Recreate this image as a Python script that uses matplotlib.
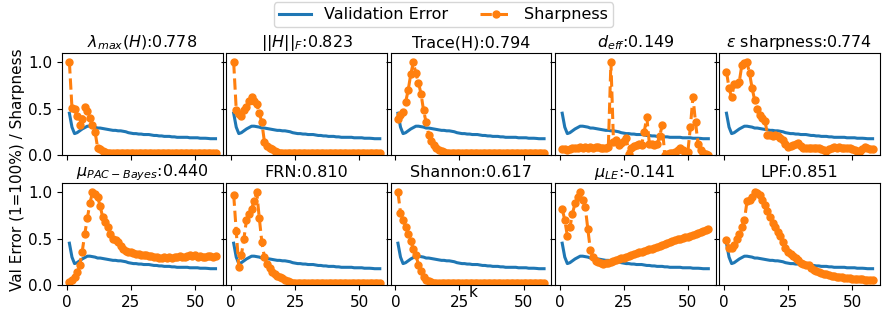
import numpy as np
import matplotlib.pyplot as plt

plt.rcParams['font.size'] = 11

# ---------------- DATA ---------------- #
k = np.arange(1, 59)

val_error = [0.45, 0.30, 0.23, 0.24, 0.26, 0.28, 0.295, 0.31, 0.31, 0.305,
             0.30, 0.29, 0.29, 0.285, 0.28, 0.275, 0.27, 0.265, 0.265, 0.26,
             0.26, 0.255, 0.25, 0.24, 0.235, 0.23, 0.23, 0.225, 0.225, 0.22,
             0.22, 0.22, 0.215, 0.21, 0.21, 0.205, 0.205, 0.20, 0.20, 0.20,
             0.195, 0.195, 0.19, 0.19, 0.19, 0.19, 0.19, 0.185, 0.185, 0.185,
             0.185, 0.18, 0.18, 0.18, 0.178, 0.175, 0.175, 0.175]

lam_max = [1.00, 0.51, 0.50, 0.42, 0.32, 0.39, 0.52, 0.47, 0.40, 0.32,
           0.25, 0.08, 0.06, 0.04, 0.03, 0.02, 0.02, 0.02, 0.02, 0.02,
           0.02, 0.02, 0.02, 0.02, 0.02, 0.02, 0.02, 0.02, 0.02, 0.02,
           0.02, 0.02, 0.02, 0.02, 0.02, 0.02, 0.02, 0.02, 0.02, 0.02,
           0.02, 0.02, 0.02, 0.02, 0.02, 0.02, 0.02, 0.02, 0.02, 0.02,
           0.02, 0.02, 0.02, 0.02, 0.02, 0.02, 0.02, 0.02]

frob = [1.00, 0.49, 0.44, 0.42, 0.48, 0.52, 0.58, 0.63, 0.58, 0.55,
        0.45, 0.35, 0.14, 0.10, 0.08, 0.06, 0.04, 0.03, 0.02, 0.02,
        0.02, 0.02, 0.02, 0.02, 0.02, 0.02, 0.02, 0.02, 0.02, 0.02,
        0.02, 0.02, 0.02, 0.02, 0.02, 0.02, 0.02, 0.02, 0.02, 0.02,
        0.02, 0.02, 0.02, 0.02, 0.02, 0.02, 0.02, 0.02, 0.02, 0.02,
        0.02, 0.02, 0.02, 0.02, 0.02, 0.02, 0.02, 0.02]

trace = [0.39, 0.43, 0.46, 0.57, 0.70, 0.87, 1.00, 0.88, 0.78, 0.66,
         0.48, 0.35, 0.22, 0.15, 0.11, 0.07, 0.05, 0.04, 0.03, 0.02,
         0.02, 0.02, 0.02, 0.02, 0.02, 0.02, 0.02, 0.02, 0.02, 0.02,
         0.02, 0.02, 0.02, 0.02, 0.02, 0.02, 0.02, 0.02, 0.02, 0.02,
         0.02, 0.02, 0.02, 0.02, 0.02, 0.02, 0.02, 0.02, 0.02, 0.02,
         0.02, 0.02, 0.02, 0.02, 0.02, 0.02, 0.02, 0.02]

d_eff = [0.06, 0.06, 0.05, 0.06, 0.07, 0.08, 0.08, 0.09, 0.08, 0.09,
         0.08, 0.09, 0.08, 0.09, 0.09, 0.08, 0.08, 0.08, 0.09, 1.00,
         0.14, 0.16, 0.11, 0.13, 0.15, 0.18, 0.01, 0.07, 0.10, 0.11,
         0.12, 0.11, 0.25, 0.41, 0.12, 0.12, 0.11, 0.12, 0.20, 0.32,
         0.00, 0.01, 0.02, 0.02, 0.03, 0.05, 0.07, 0.05, 0.02, 0.03,
         0.30, 0.63, 0.35, 0.12, 0.05, 0.02, 0.01, 0.00]

eps_sharp = [0.90, 0.72, 0.62, 0.76, 0.77, 0.79, 0.97, 0.99, 1.00, 0.88,
             0.72, 0.59, 0.50, 0.43, 0.40, 0.37, 0.22, 0.21, 0.20, 0.21,
             0.20, 0.18, 0.16, 0.12, 0.09, 0.10, 0.11, 0.12, 0.125, 0.10,
             0.08, 0.08, 0.08, 0.075, 0.08, 0.07, 0.07, 0.06, 0.05, 0.045,
             0.06, 0.08, 0.09, 0.08, 0.09, 0.08, 0.07, 0.07, 0.07, 0.06,
             0.05, 0.045, 0.045, 0.06, 0.09, 0.08, 0.065, 0.065]

pac_bayes = [0.03, 0.05, 0.08, 0.14, 0.21, 0.36, 0.55, 0.72, 0.88, 1.00,
             0.98, 0.95, 0.85, 0.73, 0.68, 0.62, 0.55, 0.50, 0.48, 0.46,
             0.42, 0.39, 0.37, 0.36, 0.35, 0.34, 0.33, 0.33, 0.32, 0.32,
             0.32, 0.31, 0.31, 0.30, 0.30, 0.29, 0.29, 0.30, 0.29, 0.30,
             0.29, 0.30, 0.30, 0.31, 0.30, 0.30, 0.31, 0.32, 0.31, 0.32,
             0.30, 0.31, 0.30, 0.30, 0.31, 0.31, 0.30, 0.31]

frn = [0.975, 0.58, 0.19, 0.32, 0.50, 0.70, 0.76, 0.82, 0.91, 1.00,
       0.72, 0.46, 0.30, 0.23, 0.18, 0.14, 0.12, 0.10, 0.08, 0.07,
       0.05, 0.04, 0.03, 0.025, 0.02, 0.02, 0.02, 0.02, 0.02, 0.02,
       0.02, 0.02, 0.02, 0.02, 0.02, 0.02, 0.02, 0.02, 0.02, 0.02,
       0.02, 0.02, 0.02, 0.02, 0.02, 0.02, 0.02, 0.02, 0.02, 0.02,
       0.02, 0.02, 0.02, 0.02, 0.02, 0.02, 0.02, 0.02]

shannon = [1.00, 0.78, 0.70, 0.63, 0.55, 0.47, 0.39, 0.32, 0.22, 0.15,
           0.08, 0.05, 0.04, 0.03, 0.02, 0.02, 0.02, 0.02, 0.02, 0.02,
           0.02, 0.02, 0.02, 0.02, 0.02, 0.02, 0.02, 0.02, 0.02, 0.02,
           0.02, 0.02, 0.02, 0.02, 0.02, 0.02, 0.02, 0.02, 0.02, 0.02,
           0.02, 0.02, 0.02, 0.02, 0.02, 0.02, 0.02, 0.02, 0.02, 0.02,
           0.02, 0.02, 0.02, 0.02, 0.02, 0.02, 0.02, 0.02]

mu_le = [0.82, 0.70, 0.53, 0.62, 0.77, 0.88, 0.95, 1.00, 0.92, 0.84,
         0.60, 0.375, 0.30, 0.26, 0.245, 0.24, 0.23, 0.235, 0.24, 0.25,
         0.26, 0.27, 0.28, 0.285, 0.29, 0.30, 0.31, 0.32, 0.33, 0.34,
         0.35, 0.36, 0.37, 0.38, 0.385, 0.39, 0.40, 0.41, 0.42, 0.43,
         0.44, 0.45, 0.46, 0.47, 0.48, 0.49, 0.50, 0.51, 0.515, 0.52,
         0.53, 0.54, 0.55, 0.56, 0.57, 0.58, 0.59, 0.60]

lpf = [0.48, 0.40, 0.40, 0.43, 0.50, 0.55, 0.63, 0.70, 0.90, 0.92,
       0.95, 1.00, 0.99, 0.975, 0.92, 0.86, 0.80, 0.73, 0.67, 0.62,
       0.57, 0.53, 0.46, 0.40, 0.36, 0.33, 0.31, 0.29, 0.27, 0.24,
       0.23, 0.22, 0.21, 0.18, 0.16, 0.15, 0.14, 0.13, 0.12, 0.115,
       0.11, 0.10, 0.095, 0.09, 0.085, 0.08, 0.075, 0.07, 0.07, 0.065,
       0.065, 0.065, 0.06, 0.06, 0.058, 0.056, 0.055, 0.054]

titles = [r'$\lambda_{max}(H)$:0.778', r'$||H||_F$:0.823', 'Trace(H):0.794',
          r'$d_{eff}$:0.149', r'$\epsilon$ sharpness:0.774',
          r'$\mu_{PAC-Bayes}$:0.440', 'FRN:0.810', 'Shannon:0.617',
          r'$\mu_{LE}$:-0.141', 'LPF:0.851']
sharpness = [lam_max, frob, trace, d_eff, eps_sharp,
             pac_bayes, frn, shannon, mu_le, lpf]

# ---------------- PLOT ---------------- #
fig, axes = plt.subplots(2, 5, figsize=(8.87, 3.29), dpi=100, sharex=True, sharey=True)
fig.subplots_adjust(left=0.07, right=0.992, top=0.839, bottom=0.134,
                    wspace=0.022, hspace=0.275)

for ax, title, sharp in zip(axes.flat, titles, sharpness):
    ax.plot(k, val_error, color='#1f77b4', lw=2.2, label='Validation Error')
    ax.plot(k, sharp, color='#ff7f0e', lw=2.2, ls='--', marker='o', ms=5,
            label='Sharpness')
    ax.set_title(title, fontsize=11.5, pad=4)

axes[0, 0].set_ylim(0, 1.1)
axes[0, 0].set_yticks([0.0, 0.5, 1.0])
axes[0, 0].set_xticks([0, 25, 50])

handles, labels = axes[0, 0].get_legend_handles_labels()
fig.legend(handles, labels, loc='upper center', ncol=2, bbox_to_anchor=(0.5, 1.0),
           fontsize=11.5, borderpad=0.3, borderaxespad=0.15)
fig.text(0.02, 0.485, 'Val Error (1=100%) / Sharpness', rotation=90,
         ha='center', va='center', fontsize=11)
fig.text(0.533, 0.11, 'k', ha='center', va='center', fontsize=11)

plt.savefig('out.png', dpi=100)
